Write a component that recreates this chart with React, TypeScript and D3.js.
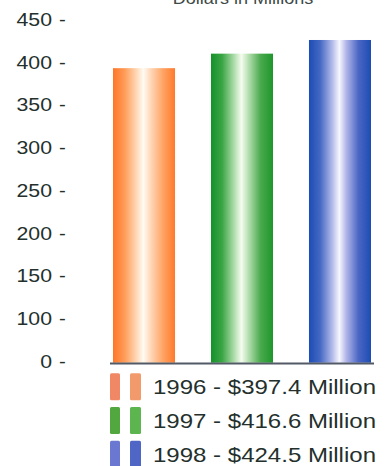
import React from "react";
import * as d3 from "d3";

const years = ["1996", "1997", "1998"];
const barValues = [393, 410, 426];
const legendLabels = ["1996 - $397.4 Million", "1997 - $416.6 Million", "1998 - $424.5 Million"];
const tickValues = [450, 400, 350, 300, 250, 200, 150, 100, 50];
const tickLabels = ["450", "400", "350", "300", "250", "200", "150", "100", "0"];
const title = "Dollars in Millions";

const palettes = [
  { id: "g1996", stops: ["#ff7628", "#ff9a55", "#ffd2ad", "#fffbf2", "#ffd9bc", "#ffa566", "#ff7a2c"], sw: ["#f08866", "#f39a6c"] },
  { id: "g1997", stops: ["#16912a", "#3aa544", "#a6d9a4", "#f6fcf0", "#b8e0b2", "#4aa94d", "#1e962c"], sw: ["#52a83e", "#5cb54e"] },
  { id: "g1998", stops: ["#1c4cb4", "#4468c4", "#a9b3e6", "#f8f6ff", "#b2b6e8", "#4a66c4", "#1c4db2"], sw: ["#6a78d2", "#4f66c6"] },
];
const stopOffsets = [0, 0.18, 0.36, 0.49, 0.6, 0.8, 1];

export default function App() {
  const W = 385, H = 466;
  const y = d3.scaleLinear().domain([50, 450]).range([361, 19.5]);
  const x = d3.scaleBand<string>().domain(years).range([113, 371]).paddingInner(0.367).paddingOuter(0);
  const baseY = y(48);
  const textColor = "#24302c";
  const font = "'Liberation Sans', Arial, sans-serif";

  return (
    <svg width={W} height={H} style={{ position: "absolute", left: 0, top: 0, background: "#fff" }}>
      <defs>
        {palettes.map((p) => (
          <linearGradient key={p.id} id={p.id} x1="0" x2="1" y1="0" y2="0">
            {p.stops.map((c, i) => (
              <stop key={i} offset={stopOffsets[i]} stopColor={c} />
            ))}
          </linearGradient>
        ))}
      </defs>
      <text
        transform={`translate(243,4) scale(1.13,1)`}
        textAnchor="middle"
        fontFamily={font}
        fontSize={16}
        fill="#3e4a48"
      >
        {title}
      </text>
      {tickValues.map((v, i) => (
        <g key={v} transform={`translate(0,${y(v)})`} fontFamily={font} fontSize={18.5} fill={textColor}>
          <text transform="translate(52,6.6) scale(1.15,1)" textAnchor="end">{tickLabels[i]}</text>
          <text transform="translate(59,6.6) scale(1.1,1)">-</text>
        </g>
      ))}
      {years.map((yr, i) => (
        <rect
          key={yr}
          x={x(yr)}
          y={y(barValues[i])}
          width={x.bandwidth()}
          height={baseY - y(barValues[i])}
          fill={`url(#${palettes[i].id})`}
        />
      ))}
      <line x1={110} x2={374} y1={baseY + 0.8} y2={baseY + 0.8} stroke="#525a66" strokeWidth={2} />
      {legendLabels.map((lab, i) => {
        const by = 394.3 + i * 33.7;
        return (
          <g key={lab}>
            <rect x={110} y={by - 21} width={10} height={27} rx={1.5} fill={palettes[i].sw[0]} />
            <rect x={130} y={by - 21} width={11} height={27} rx={1.5} fill={palettes[i].sw[1]} />
            <text
              x={153}
              y={by}
              fontFamily={font}
              fontSize={21}
              fill={textColor}
              textLength={223}
              lengthAdjust="spacingAndGlyphs"
            >
              {lab}
            </text>
          </g>
        );
      })}
    </svg>
  );
}
